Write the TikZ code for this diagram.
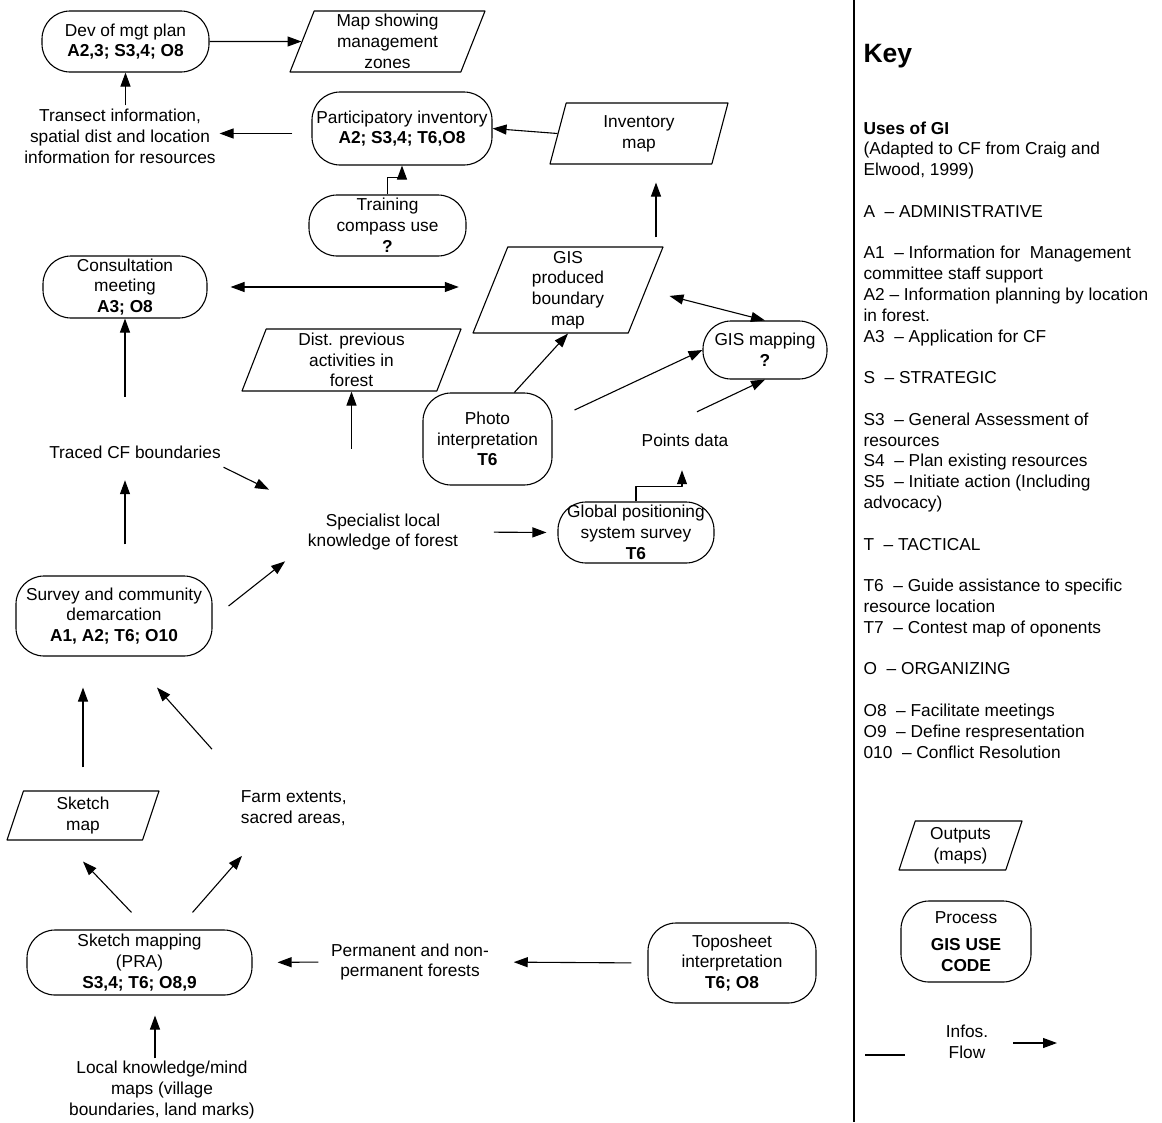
\documentclass[tikz,border=0pt]{standalone}
\usepackage{fontspec}
\setmainfont{Liberation Sans}
\usetikzlibrary{shapes.geometric,arrows.meta,calc}
\begin{document}
\begin{tikzpicture}[x=1pt,y=-1pt,>={Triangle[length=14pt,width=10pt]},line width=1.1pt,line join=round,
    font=\fontsize{17.3pt}{20.8pt}\selectfont,
    proc/.style={draw,rounded corners=28pt,align=center,inner sep=1pt},
    outmap/.style={draw,trapezium,trapezium left angle=66,trapezium right angle=114,trapezium stretches body,align=center,inner sep=0pt},
    info/.style={align=center}]
    \useasboundingbox (0,0) rectangle (1162,1122);
    \node[proc,minimum width=167pt,minimum height=61pt] (dev) at (125.5,41.5) {Dev of mgt plan\\\textbf{A2,3; S3,4; O8}};
    \node[outmap,minimum width=195pt,minimum height=61pt] (zones) at (387.5,41.5) {Map showing\\management\\zones};
    \node[info] (transect) at (120,136.5) {Transect information,\\spatial dist and location\\information for resources};
    \node[proc,minimum width=180pt,minimum height=73pt] (partinv) at (402,128.5) {Participatory inventory\\\textbf{A2; S3,4; T6,O8}};
    \node[outmap,minimum width=178pt,minimum height=61pt] (invmap) at (639,133.5) {Inventory\\map};
    \node[proc,minimum width=157pt,minimum height=61pt] (training) at (387.5,225.5) {Training\\compass use\\\textbf{?}};
    \node[proc,minimum width=164pt,minimum height=62pt] (consult) at (125,287) {Consultation\\meeting\\\textbf{A3; O8}};
    \node[outmap,minimum width=190pt,minimum height=86pt] (gisbound) at (568,290) {GIS\\produced\\boundary\\map};
    \node[proc,minimum width=124pt,minimum height=58pt] (gismap) at (765,350) {GIS mapping\\\textbf{?}};
    \node[outmap,minimum width=219pt,minimum height=62pt] (distprev) at (351.5,360) {Dist. previous\\activities in\\forest};
    \node[proc,minimum width=129pt,minimum height=92pt] (photo) at (487.5,439) {Photo\\interpretation\\\textbf{T6}};
    \node[info] (points) at (685,440) {Points data};
    \node[info] (trace) at (135,452) {Traced CF boundaries};
    \node[info] (special) at (383,532) {Specialist local\\knowledge of forest};
    \node[proc,minimum width=156pt,minimum height=61pt] (gps) at (636,532.5) {Global positioning\\system survey\\\textbf{T6}};
    \node[proc,minimum width=196pt,minimum height=80pt] (survey) at (114,616) {Survey and community\\demarcation\\\textbf{A1, A2; T6; O10}};
    \node[outmap,minimum width=152pt,minimum height=49pt] (sketchmap) at (83,815.5) {Sketch\\map};
    \node[info,align=left,anchor=west] (farm) at (237,808.5) {Farm extents,\\sacred areas,};
    \node[proc,minimum width=225pt,minimum height=65pt] (skmapping) at (139.5,962.5) {Sketch mapping\\(PRA)\\\textbf{S3,4; T6; O8,9}};
    \node[info] (perm) at (410,962) {Permanent and non-\\permanent forests};
    \node[proc,minimum width=168pt,minimum height=80pt] (topo) at (732,963) {Toposheet\\interpretation\\\textbf{T6; O8}};
    \node[info] (local) at (162,1090) {Local knowledge/mind\\maps (village\\boundaries, land marks)};

    \draw[->] (dev) -- (zones);
    \draw[->] (dev.south |- transect.north) -- (dev.south);
    \draw[->] ($(partinv.west |- transect.east)+(-19,-3)$) -- ($(transect.east)+(0,-3)$);
    \draw[->] (invmap.west) -- (partinv.east);
    \draw[->] (training.north) -- ++(0,-17) -| (partinv.south);
    \draw[<->,shorten <=23pt,shorten >=31pt] (consult.east) -- (consult.east -| gisbound.180);
    \draw[<->,shorten <=24pt] (gisbound.east) -- (gismap.north);
    \draw[->] ($(gisbound.90)+(88,-9)$) -- ($(invmap.270)+(17,18)$);
    \draw[->] (photo.60) -- (gisbound.270);
    \draw[->] ($(photo.east)+(22,-29)$) -- (gismap.west);
    \draw[->] ($(points.north)+(12,-18)$) -- (gismap.south);
    \draw[->] (gps.north) -- ++(0,-15) -| ($(points.south)+(-3,20)$);
    \draw[->,shorten <=32pt,shorten >=11pt] (special.east) -- (gps.west);
    \draw[->,shorten <=61pt] (distprev.270 |- special.north) -- (distprev.270);
    \draw[->,shorten <=45pt] (consult.south |- trace.north) -- (consult.south);
    \draw[->] ($(trace.south east)+(-1,5)$) -- ($(special.north west)+(-35,-20)$);
    \draw[->] ($(survey.east)+(16,-10)$) -- ($(special.south west)+(-19,7)$);
    \draw[->,shorten <=31pt,shorten >=18pt] (survey.north -| consult.south) -- (consult.south |- trace.south);
    \draw[->,shorten <=23pt,shorten >=31pt] (sketchmap.90) -- (sketchmap.90 |- survey.south);
    \draw[->] ($(farm.north west)+(-25,-38)$) -- ($(survey.south)+(43,31)$);
    \draw[->] ($(skmapping.north)+(-8,-17)$) -- ($(sketchmap.270)+(0,21)$);
    \draw[->] ($(skmapping.north)+(53,-17)$) -- ($(farm.south west)+(5,26)$);
    \draw[->] ($(local.north)+(-7,1)$) -- ($(skmapping.south)+(15.5,20)$);
    \draw[->,shorten <=9pt,shorten >=25pt] (perm.west) -- (skmapping.east);
    \draw[->,shorten <=16pt,shorten >=21pt] (topo.west) -- (perm.east);

    \draw[line width=1.3pt] (854,0) -- (854,1122);
    \node[anchor=base west,inner sep=0pt,font=\fontsize{26.5pt}{30pt}\selectfont\bfseries] (key) at (863,62) {Key};
    \node[anchor=north west,inner sep=0pt,align=left] (uses) at (863,121) {\textbf{Uses of GI}\\
        (Adapted to CF from Craig and\\
        Elwood, 1999)\\[20.8pt]
        A~ – ADMINISTRATIVE\\[20.8pt]
        A1~ – Information for~ Management\\
        committee staff support\\
        A2 – Information planning by location\\
        in forest.\\
        A3~ – Application for CF\\[20.8pt]
        S~ – STRATEGIC\\[20.8pt]
        S3~ – General Assessment of\\
        resources\\
        S4~ – Plan existing resources\\
        S5~ – Initiate action (Including\\
        advocacy)\\[20.8pt]
        T~ – TACTICAL\\[20.8pt]
        T6~ – Guide assistance to specific\\
        resource location\\
        T7~ – Contest map of oponents\\[20.8pt]
        O~ – ORGANIZING\\[20.8pt]
        O8~ – Facilitate meetings\\
        O9~ – Define respresentation\\
        010~ – Conflict Resolution};
    \node[outmap,minimum width=123pt,minimum height=49pt] (outputs) at (960.5,845.5) {Outputs\\(maps)};
    \node[proc,minimum width=130pt,minimum height=81pt] (process) at (966,941.5) {Process\\[7pt]\textbf{GIS USE}\\\textbf{CODE}};
    \node[info] (infos) at (967,1042) {Infos.\\Flow};
    \draw (865,1055) -- (905,1055);
    \draw[->] (1013,1043) -- (1057,1043);
\end{tikzpicture}
\end{document}
